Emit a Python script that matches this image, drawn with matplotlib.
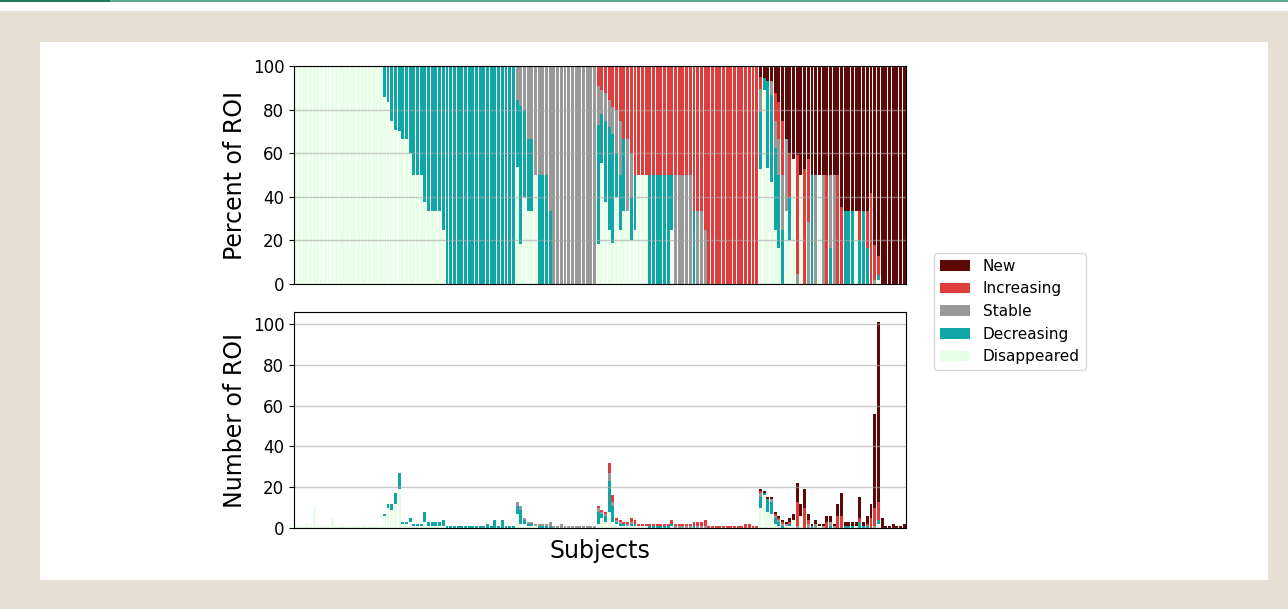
import numpy as np
import matplotlib.pyplot as plt
from matplotlib.patches import Rectangle, Patch

# ROI counts per subject, one entry per subject (166 subjects)
disappeared = [
    1, 1, 1, 2, 1, 10, 1, 1, 1, 1, 5, 1, 1, 2, 1, 1, 1, 1, 1, 1,
    1, 1, 1, 1, 6, 10, 9, 12, 19, 2, 2, 3, 1, 1, 1, 3, 1, 1, 1, 1,
    1, 0, 0, 0, 0, 0, 0, 0, 0, 0, 0, 0, 0, 0, 0, 0, 0, 0, 0, 0,
    7, 2, 2, 1, 1, 1, 0, 0, 0, 0, 0, 0, 0, 0, 0, 0, 0, 0, 0, 0,
    0, 0, 2, 5, 3, 8, 3, 2, 1, 1, 1, 1, 1, 1, 1, 1, 0, 0, 0, 0,
    0, 0, 1, 0, 0, 0, 0, 0, 0, 0, 0, 0, 0, 0, 0, 0, 0, 0, 0, 0,
    0, 0, 0, 0, 0, 0, 10, 16, 8, 7, 2, 1, 0, 1, 1, 4, 0, 6, 0, 0,
    0, 0, 1, 0, 0, 0, 0, 0, 0, 0, 0, 0, 1, 0, 0, 0, 0, 0, 2, 0,
    0, 0, 0, 0, 0, 0,
]
decreasing = [
    0, 0, 0, 0, 0, 0, 0, 0, 0, 0, 0, 0, 0, 0, 0, 0, 0, 0, 0, 0,
    0, 0, 0, 0, 1, 2, 3, 5, 8, 1, 1, 2, 1, 1, 1, 5, 2, 2, 2, 2,
    3, 1, 1, 1, 1, 1, 1, 1, 1, 1, 1, 1, 2, 1, 4, 1, 4, 1, 1, 1,
    4, 7, 2, 1, 1, 0, 1, 1, 1, 1, 0, 0, 0, 0, 0, 0, 0, 0, 0, 0,
    0, 0, 6, 2, 3, 15, 8, 1, 1, 1, 0, 1, 1, 0, 0, 0, 1, 1, 1, 1,
    1, 1, 1, 0, 0, 0, 0, 0, 1, 0, 0, 0, 0, 0, 0, 0, 0, 0, 0, 0,
    0, 0, 0, 0, 0, 0, 5, 1, 6, 6, 3, 2, 1, 0, 1, 0, 0, 0, 0, 0,
    1, 0, 0, 0, 0, 1, 0, 0, 0, 1, 1, 1, 0, 3, 1, 1, 0, 0, 2, 0,
    0, 0, 0, 0, 0, 0,
]
stable = [
    0, 0, 0, 0, 0, 0, 0, 0, 0, 0, 0, 0, 0, 0, 0, 0, 0, 0, 0, 0,
    0, 0, 0, 0, 0, 0, 0, 0, 0, 0, 0, 0, 0, 0, 0, 0, 0, 0, 0, 0,
    0, 0, 0, 0, 0, 0, 0, 0, 0, 0, 0, 0, 0, 0, 0, 0, 0, 0, 0, 0,
    2, 2, 1, 1, 1, 1, 1, 1, 1, 2, 1, 1, 2, 1, 1, 1, 1, 1, 1, 1,
    1, 1, 2, 1, 1, 4, 2, 1, 1, 0, 1, 1, 0, 0, 0, 0, 0, 0, 0, 0,
    0, 0, 0, 1, 1, 1, 1, 1, 0, 1, 1, 1, 0, 0, 0, 0, 0, 0, 0, 0,
    0, 0, 0, 0, 0, 0, 2, 0, 0, 1, 1, 1, 1, 1, 0, 0, 1, 0, 0, 2,
    0, 2, 0, 1, 0, 2, 1, 0, 0, 0, 0, 0, 0, 0, 0, 0, 0, 1, 0, 0,
    0, 0, 0, 0, 0, 0,
]
increasing = [
    0, 0, 0, 0, 0, 0, 0, 0, 0, 0, 0, 0, 0, 0, 0, 0, 0, 0, 0, 0,
    0, 0, 0, 0, 0, 0, 0, 0, 0, 0, 0, 0, 0, 0, 0, 0, 0, 0, 0, 0,
    0, 0, 0, 0, 0, 0, 0, 0, 0, 0, 0, 0, 0, 0, 0, 0, 0, 0, 0, 0,
    0, 0, 0, 0, 0, 0, 0, 0, 0, 0, 0, 0, 0, 0, 0, 0, 0, 0, 0, 0,
    0, 0, 1, 1, 1, 5, 3, 1, 1, 1, 1, 2, 2, 1, 1, 1, 1, 1, 1, 1,
    1, 1, 2, 1, 1, 1, 1, 1, 2, 2, 2, 3, 1, 1, 1, 1, 1, 1, 1, 1,
    1, 1, 2, 2, 1, 1, 1, 0, 0, 0, 1, 1, 1, 0, 1, 0, 12, 0, 10, 2,
    0, 0, 0, 0, 3, 0, 0, 6, 6, 0, 0, 0, 0, 2, 0, 1, 5, 9, 9, 0,
    0, 0, 0, 0, 0, 0,
]
new = [
    0, 0, 0, 0, 0, 0, 0, 0, 0, 0, 0, 0, 0, 0, 0, 0, 0, 0, 0, 0,
    0, 0, 0, 0, 0, 0, 0, 0, 0, 0, 0, 0, 0, 0, 0, 0, 0, 0, 0, 0,
    0, 0, 0, 0, 0, 0, 0, 0, 0, 0, 0, 0, 0, 0, 0, 0, 0, 0, 0, 0,
    0, 0, 0, 0, 0, 0, 0, 0, 0, 0, 0, 0, 0, 0, 0, 0, 0, 0, 0, 0,
    0, 0, 0, 0, 0, 0, 0, 0, 0, 0, 0, 0, 0, 0, 0, 0, 0, 0, 0, 0,
    0, 0, 0, 0, 0, 0, 0, 0, 0, 0, 0, 0, 0, 0, 0, 0, 0, 0, 0, 0,
    0, 0, 0, 0, 0, 0, 1, 1, 1, 1, 1, 1, 1, 1, 2, 3, 9, 6, 9, 3,
    1, 2, 1, 1, 3, 3, 1, 6, 11, 2, 2, 2, 2, 10, 2, 4, 7, 46, 88, 5,
    1, 1, 2, 1, 1, 2,
]

categories = ["Disappeared", "Decreasing", "Stable", "Increasing", "New"]
colors = ["#e6ffe6", "#0fa6a6", "#999999", "#e03c3c", "#5e0808"]

counts = np.array([disappeared, decreasing, stable, increasing, new], dtype=float)
totals = counts.sum(axis=0)
percents = counts / totals * 100
x = np.arange(counts.shape[1])

fig = plt.figure(figsize=(12.88, 6.09), dpi=100)
fig.patch.set_facecolor("white")

# page background around the figure
W, H = 1288, 609
def px_rect(x0, y0, x1, y1, color, z):
    fig.add_artist(Rectangle((x0 / W, 1 - y1 / H), (x1 - x0) / W, (y1 - y0) / H,
                             transform=fig.transFigure, facecolor=color,
                             edgecolor="none", zorder=z))

px_rect(0, 11, W, H, "#e6dfd3", -10)
px_rect(40, 42, 1268, 580, "white", -9)
px_rect(0, 0, W, 1.6, "#5fa88b", -8)
px_rect(0, 0, 110, 1.6, "#1b7a5c", -7)

ax_top = fig.add_axes([294 / W, 1 - 284 / H, 612 / W, 218 / H])
ax_bot = fig.add_axes([294 / W, 1 - 528 / H, 612 / W, 216 / H])

bottom_pct = np.zeros(len(x))
bottom_cnt = np.zeros(len(x))
for i in range(len(categories)):
    ax_top.bar(x, percents[i], bottom=bottom_pct, width=0.8, color=colors[i], linewidth=0)
    ax_bot.bar(x, counts[i], bottom=bottom_cnt, width=0.8, color=colors[i], linewidth=0)
    bottom_pct += percents[i]
    bottom_cnt += counts[i]

for ax in (ax_top, ax_bot):
    ax.set_xlim(-0.5, len(x) - 0.5)
    ax.set_xticks([])
    ax.grid(axis="y", color="#a8a8a8", alpha=0.6, linewidth=1)
    ax.tick_params(axis="y", labelsize=12)

ax_top.set_ylim(0, 100)
ax_top.set_yticks([0, 20, 40, 60, 80, 100])
ax_top.set_ylabel("Percent of ROI", fontsize=17)

ax_bot.set_ylim(0, 106)
ax_bot.set_yticks([0, 20, 40, 60, 80, 100])
ax_bot.set_ylabel("Number of ROI", fontsize=17)
ax_bot.set_xlabel("Subjects", fontsize=17, labelpad=8)

handles = [Patch(facecolor=colors[i], label=categories[i]) for i in range(4, -1, -1)]
fig.legend(handles=handles, loc="center left", bbox_to_anchor=(926 / W, 1 - 311.5 / H),
           fontsize=11)

fig.savefig("out.png", dpi=100)
